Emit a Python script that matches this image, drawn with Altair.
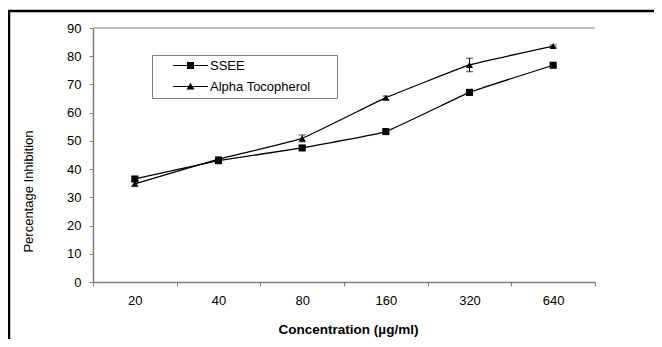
import altair as alt
import pandas as pd

conc = ["20", "40", "80", "160", "320", "640"]
ssee = [36.5, 43.0, 47.5, 53.3, 67.2, 76.8]
ssee_err = [0.9, 0.6, 0.8, 0.5, 1.0, 0.5]
alpha = [34.8, 43.5, 50.9, 65.3, 76.9, 83.6]
alpha_err = [0.8, 0.9, 1.2, 0.6, 2.4, 0.4]
series = ["SSEE", "Alpha Tocopherol"]
y_ticks = [0, 10, 20, 30, 40, 50, 60, 70, 80, 90]
y_top = [90]

rows = []
for c, v, e in zip(conc, ssee, ssee_err):
    rows.append({"conc": c, "value": v, "lo": v - e, "hi": v + e, "series": series[0]})
for c, v, e in zip(conc, alpha, alpha_err):
    rows.append({"conc": c, "value": v, "lo": v - e, "hi": v + e, "series": series[1]})
df = pd.DataFrame(rows)

FONT = "Liberation Sans"
GRAY = "#7f7f7f"
W, H = 502, 254

xscale = alt.Scale(type="band", paddingInner=0, paddingOuter=0)
yscale = alt.Scale(domain=[0, 90], nice=False, zero=True)

xaxis = alt.Axis(
    tickBand="extent", labelAngle=0, title="Concentration (µg/ml)",
    tickSize=4, tickColor=GRAY, domainColor=GRAY, domainWidth=1.5,
    labelFont=FONT, labelFontSize=13, labelColor="black", labelPadding=8,
    titleFont=FONT, titleFontSize=13.5, titleFontWeight="bold", titleColor="black",
    titleX=255, titleY=47, titleBaseline="middle", titleAnchor="middle",
    titleAlign="center", grid=False,
)
yaxis = alt.Axis(
    values=y_ticks, grid=False, title="Percentage Inhibition",
    labelOverlap=False, labelBound=False, labelFlush=False,
    tickSize=4, tickColor=GRAY, domainColor=GRAY, domainWidth=1.5,
    labelFont=FONT, labelFontSize=13, labelColor="black", labelPadding=8,
    titleFont=FONT, titleFontSize=13, titleFontWeight="normal", titleColor="black",
    titleAngle=270, titleX=-65, titleY=163, titleBaseline="middle",
    titleAlign="center",
)


def X():
    return alt.X("conc:O", sort=conc, scale=xscale, bandPosition=0.5, axis=xaxis)


def Y(field):
    return alt.Y(f"{field}:Q", scale=yscale, axis=yaxis)


base = alt.Chart(df)

lines = base.mark_line(
    color="black", strokeWidth=1.3, interpolate="cardinal", tension=0.75
).encode(x=X(), y=Y("value"), detail="series:N")

top_rule = alt.Chart(pd.DataFrame({"v": y_top})).mark_rule(
    color=GRAY, strokeWidth=1.2
).encode(y=Y("v"), x=alt.value(0), x2=alt.value(W))

err_rule = base.mark_rule(color="black", strokeWidth=1).encode(
    x=X(), y=Y("lo"), y2="hi:Q",
)
err_lo = base.mark_tick(color="black", size=7, thickness=1).encode(x=X(), y=Y("lo"))
err_hi = base.mark_tick(color="black", size=7, thickness=1).encode(x=X(), y=Y("hi"))

pts_sq = base.transform_filter(alt.datum.series == series[0]).mark_point(
    shape="square", filled=True, color="black", size=50, opacity=1
).encode(x=X(), y=Y("value"))
pts_tri = base.transform_filter(alt.datum.series == series[1]).mark_point(
    shape="triangle-up", filled=True, color="black", size=50, opacity=1
).encode(x=X(), y=Y("value"))

sq_path = "M-3.5,-0.12H3.5V0.12H-3.5Z M-0.7,-0.7H0.7V0.7H-0.7Z"
tri_path = "M-3.5,-0.12H3.5V0.12H-3.5Z M0,-0.75L0.8,0.6H-0.8Z"

legend_layer = base.transform_filter("false").mark_point(
    filled=True, fill="black", size=100, opacity=1
).encode(
    x=X(), y=Y("value"),
    shape=alt.Shape(
        "series:N",
        scale=alt.Scale(domain=series, range=[sq_path, tri_path]),
        legend=alt.Legend(
            orient="none", legendX=59, legendY=27, title="MMM",
            titleOrient="right", titlePadding=0, titleFontSize=9,
            titleColor="white",
            strokeColor=GRAY, padding=4, rowPadding=7, symbolOffset=28,
            labelOffset=13, labelFont=FONT, labelFontSize=13, labelColor="black",
            symbolSize=100, symbolFillColor="black", symbolStrokeWidth=0,
            symbolOpacity=1,
        ),
    ),
)

frame_data = alt.Data(values=[{"a": 1}])
# white cover for the stray right-hand border of the plot area
right_cover = alt.Chart(frame_data).mark_rule(color="white", strokeWidth=3).encode(
    x=alt.value(W), y=alt.value(2), y2=alt.value(H - 1)
)
frame_left = alt.Chart(frame_data).mark_rule(color="black", strokeWidth=2.5).encode(
    x=alt.value(-84), y=alt.value(-17), y2=alt.value(311)
)
frame_top = alt.Chart(frame_data).mark_rule(color="black", strokeWidth=2.5).encode(
    x=alt.value(-85), x2=alt.value(561), y=alt.value(-17)
)

chart = alt.layer(
    lines, top_rule, err_rule, err_lo, err_hi, pts_sq, pts_tri, legend_layer,
    right_cover, frame_left, frame_top,
).properties(
    width=W, height=H,
    autosize=alt.AutoSizeParams(type="none"),
    padding={"left": 85, "top": 20, "right": 59, "bottom": 57},
    view=alt.ViewBackground(stroke="transparent", strokeWidth=0),
).configure(
    font=FONT, background="white",
    view=alt.ViewConfig(stroke="transparent", strokeWidth=0),
)

chart.save("out.html", embed_options={"renderer": "svg", "actions": False})
